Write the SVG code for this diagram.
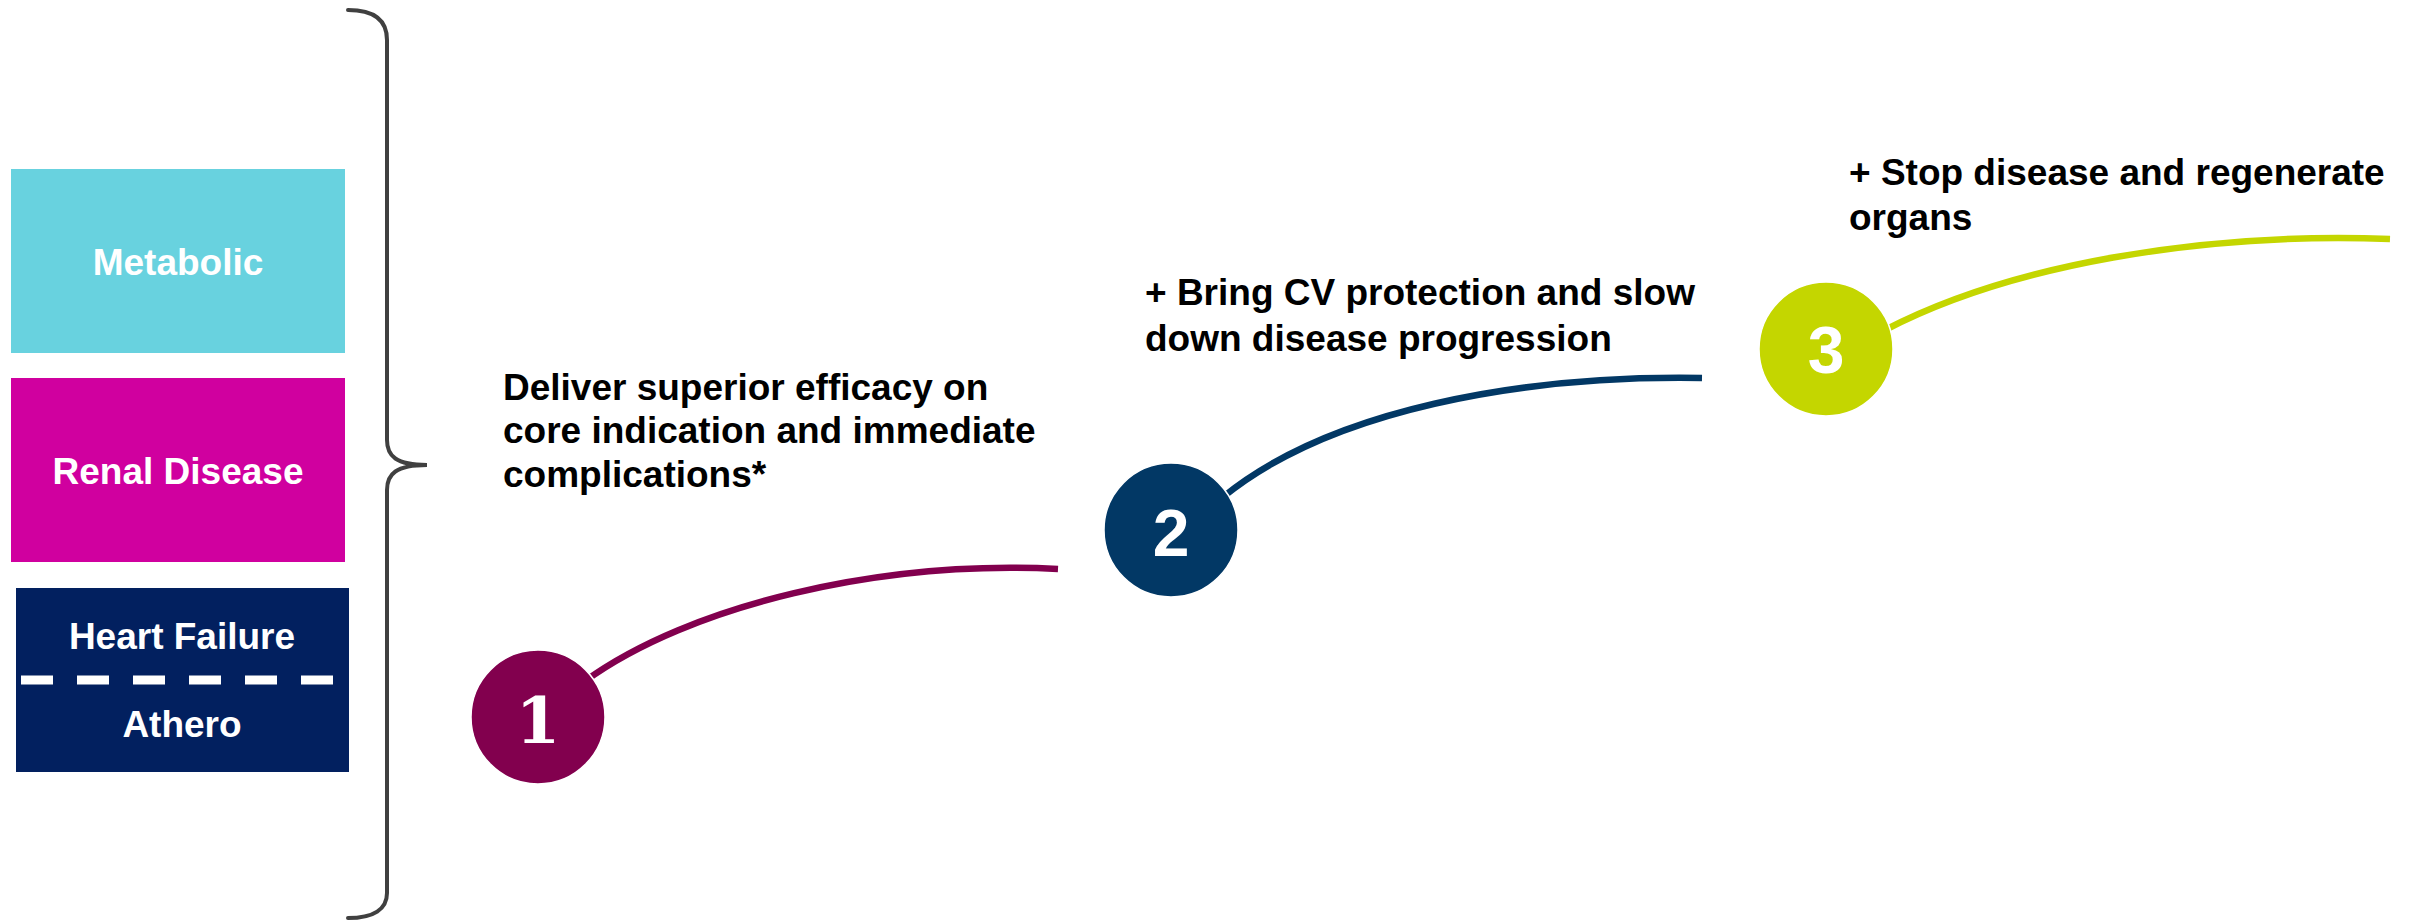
<svg xmlns="http://www.w3.org/2000/svg" width="2410" height="920" viewBox="0 0 2410 920">
  <style>
    .label { font-family: "Liberation Sans", Arial, sans-serif; font-weight: bold; font-size: 37px; }
    .box-label { fill: #ffffff; text-anchor: middle; }
    .step-text { fill: #000000; }
    .digit { font-family: "Liberation Sans", Arial, sans-serif; font-weight: bold; font-size: 66px; fill: #ffffff; text-anchor: middle; }
    .digit-slab { font-family: "DejaVu Serif", "Liberation Serif", serif; font-weight: bold; font-size: 64px; fill: #ffffff; text-anchor: middle; }
    .arc { fill: none; stroke-width: 6.5; stroke-linecap: butt; }
    .brace { fill: none; stroke: #404040; stroke-width: 4; stroke-linecap: round; }
  </style>
  <rect width="2410" height="920" fill="#ffffff"/>

  <!-- Therapy area boxes -->
  <g id="metabolic">
    <rect x="11" y="169" width="334" height="184" fill="#68D2DF"/>
    <text class="label box-label" x="178" y="275">Metabolic</text>
  </g>
  <g id="renal-disease">
    <rect x="11" y="378" width="334" height="184" fill="#D0009F"/>
    <text class="label box-label" x="178" y="484">Renal Disease</text>
  </g>
  <g id="heart-failure-athero">
    <rect x="16" y="588" width="333" height="184" fill="#02205F"/>
    <text class="label box-label" x="182" y="649">Heart Failure</text>
    <line x1="21" y1="680" x2="334" y2="680" stroke="#ffffff" stroke-width="9" stroke-dasharray="32 24"/>
    <text class="label box-label" x="182" y="737">Athero</text>
  </g>

  <!-- Curly brace grouping the areas -->
  <g id="brace">
    <path class="brace" d="M348,10 C374,10 387,20 387,40 L387,440 C387,456 396,465 427,465 C396,465 387,474 387,490 L387,893 C387,909 374,918 348,918"/>
  </g>

  <!-- Connecting arcs -->
  <g id="connectors">
    <path class="arc" stroke="#82004E" d="M585,681 C690,605 880,560 1058,569"/>
    <path class="arc" stroke="#023865" d="M1223,497 C1330,410 1520,375 1702,378"/>
    <path class="arc" stroke="#C4D600" d="M1885,330 C2010,265 2200,232 2390,239"/>
  </g>

  <!-- Step 1 -->
  <g id="step-1">
    <circle cx="538" cy="717" r="67" fill="#82004E" stroke="#ffffff" stroke-width="1.5"/>
    <text class="digit-slab" x="538" y="743">1</text>
    <text class="label step-text">
      <tspan x="503" y="400">Deliver superior efficacy on</tspan>
      <tspan x="503" y="443">core indication and immediate</tspan>
      <tspan x="503" y="487">complications*</tspan>
    </text>
  </g>

  <!-- Step 2 -->
  <g id="step-2">
    <circle cx="1171" cy="530" r="67" fill="#023865" stroke="#ffffff" stroke-width="1.5"/>
    <text class="digit" x="1171" y="556">2</text>
    <text class="label step-text">
      <tspan x="1145" y="305">+ Bring CV protection and slow</tspan>
      <tspan x="1145" y="351">down disease progression</tspan>
    </text>
  </g>

  <!-- Step 3 -->
  <g id="step-3">
    <circle cx="1826" cy="349" r="67" fill="#C4D600" stroke="#ffffff" stroke-width="1.5"/>
    <text class="digit" x="1826" y="373">3</text>
    <text class="label step-text">
      <tspan x="1849" y="185">+ Stop disease and regenerate</tspan>
      <tspan x="1849" y="230">organs</tspan>
    </text>
  </g>
</svg>
